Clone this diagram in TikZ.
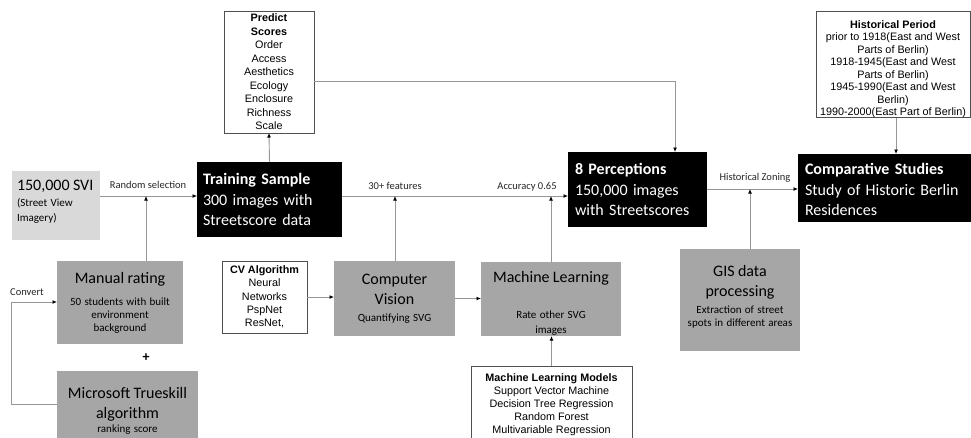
\documentclass[tikz,border=0pt]{standalone}
\usepackage{fontspec}
\setmainfont{Carlito}
\newfontfamily\arialf{Liberation Sans}
\usetikzlibrary{arrows.meta}
\definecolor{boxgray}{RGB}{166,166,166}
\definecolor{lightbox}{RGB}{217,217,217}
\definecolor{linegray}{RGB}{150,150,150}
\definecolor{framegray}{RGB}{80,80,80}
\newcommand{\bigtxt}{\fontsize{16}{20.5}\selectfont}
\newcommand{\smalltxt}{\fontsize{11}{13.5}\selectfont}
\newcommand{\lbltxt}{\fontsize{10.5}{12}\selectfont}
\newcommand{\arialtxt}{\arialf\fontsize{10.8}{13.3}\selectfont}
\begin{document}
\begin{tikzpicture}[x=1pt,y=-1pt,
  graybox/.style={fill=boxgray, inner ysep=0pt, inner xsep=2pt, outer sep=0pt, align=center},
  blackbox/.style={fill=black, text=white, inner ysep=0pt, outer sep=0pt, align=left, font=\bigtxt},
  whitebox/.style={draw=framegray, line width=0.8pt, fill=white, inner sep=0pt, outer sep=0pt, align=center, font=\arialtxt},
  conn/.style={draw=linegray, line width=0.9pt},
  arr/.style={conn, -{Latex[length=4.5pt,width=4pt,color=black]}},
  lbl/.style={font=\lbltxt, inner sep=0pt, text=black!85}]
\useasboundingbox (0,0) rectangle (971,437);
\fill[white] (0,0) rectangle (971,437);
\clip (0,0) rectangle (971,437);

% boxes
\node[fill=lightbox, inner xsep=5pt, inner ysep=0pt, outer sep=0pt, text width=78pt, align=left,
      minimum width=88pt, minimum height=69pt] (svi) at (56,205.5)
  {{\bigtxt 150,000 SVI\par}\vspace{1pt}{\fontsize{11}{15}\selectfont (Street View\\Imagery)\rule[-10pt]{0pt}{1pt}\par}};

\node[blackbox, inner xsep=6pt, text width=133pt, minimum width=145pt, minimum height=75pt] (train) at (269.5,199.5)
  {\textbf{Training Sample}\\300 images with\\Streetscore data};

\node[whitebox, minimum width=90pt, minimum height=122pt, font=\arialf\fontsize{10.8}{13.5}\selectfont] (predict) at (269,72)
  {\textbf{Predict}\\\textbf{Scores}\\Order\\Access\\Aesthetics\\Ecology\\Enclosure\\Richness\\Scale};

\node[blackbox, inner xsep=7pt, text width=125pt, minimum width=139pt, minimum height=75pt] (percep) at (637.5,189.5)
  {\textbf{8 Perceptions}\\150,000 images\\with Streetscores};

\node[blackbox, inner xsep=7pt, text width=163pt, minimum width=177pt, minimum height=68pt] (comp) at (886.5,188)
  {\rule{0pt}{15pt}\textbf{Comparative Studies}\\Study of Historic Berlin\\Residences};

\node[whitebox, minimum width=154pt, minimum height=105pt, font=\arialf\fontsize{10.8}{12.5}\selectfont] (hist) at (893,64.5)
  {\rule{0pt}{17pt}\textbf{Historical Period}\\prior to 1918(East and West\\Parts of Berlin)\\1918-1945(East and West\\Parts of Berlin)\\1945-1990(East and West\\Berlin)\\1990-2000(East Part of Berlin)};

\node[graybox, text width=122pt, minimum width=126pt, minimum height=83pt] (manual) at (120,302.5)
  {{\bigtxt Manual rating\par}\vspace{9pt}{\fontsize{11}{13}\selectfont 50 students with built\\environment\\background\par}};

\node[graybox, text width=137pt, minimum width=141pt, minimum height=74pt] (ms) at (127.5,408)
  {{\bigtxt \rule{0pt}{16pt}Microsoft Trueskill\\algorithm\par}\vspace{0pt}{\smalltxt ranking score\par}};

\node[whitebox, minimum width=85pt, minimum height=72pt] (cvalg) at (264.5,297)
  {\textbf{CV Algorithm}\\Neural\\Networks\\PspNet\\ResNet,};

\node[graybox, text width=117pt, minimum width=121pt, minimum height=75pt] (cv) at (394.5,298.5)
  {{\bigtxt Computer\\Vision\par}\vspace{3.5pt}{\smalltxt Quantifying SVG\par}};

\node[graybox, text width=136pt, minimum width=140pt, minimum height=74pt] (ml) at (551,299)
  {{\bigtxt \rule{0pt}{20pt}Machine Learning\par}\vspace{21pt}{\fontsize{11}{15}\selectfont Rate other SVG\\images\par}};

\node[whitebox, minimum width=161pt, minimum height=77pt, font=\arialf\fontsize{10.8}{13}\selectfont] (mlm) at (551.5,404.5)
  {\textbf{Machine Learning Models}\\Support Vector Machine\\Decision Tree Regression\\Random Forest\\Multivariable Regression};

\node[graybox, text width=116pt, minimum width=120pt, minimum height=102pt] (gis) at (740,300)
  {{\bigtxt GIS data\\processing\par}\vspace{4pt}{\fontsize{11}{13}\selectfont Extraction of street\\spots in different areas\rule[-8pt]{0pt}{1pt}\par}};

\node[font=\fontsize{14}{14}\selectfont\bfseries, inner sep=0pt] (plus) at (146,358) {+};

% labels
\node[lbl] (l1) at (148,185) {Random selection};
\node[lbl] (l2) at (395,186) {30+ features};
\node[lbl] (l3) at (527,187) {Accuracy 0.65};
\node[lbl] (l4) at (755,178) {Historical Zoning};
\node[lbl] (l5) at (27,292) {Convert};

% junction coordinates
\coordinate (j1) at (146,196);
\coordinate (j3) at (395,196);
\coordinate (j4) at (551,196);
\coordinate (j2) at (675,81);
\coordinate (j5) at (750,189);
\coordinate (j6) at (896,0);
\coordinate (c1) at (11,404);
\coordinate (c2) at (11,302);

% connectors
\draw[arr] (svi.east |- j1) -- (train.west |- j1);
\draw[arr] (j1 |- manual.north) -- (j1);
\draw[arr] (c1 -| ms.west) -- (c1) -- (c2) -- (c2 -| manual.west);
\draw[arr] (train.north) -- (predict.south);
\draw[arr] (j2 -| predict.east) -- (j2) -- (j2 |- percep.north);
\draw[arr] (train.east |- j3) -- (percep.west |- j3);
\draw[arr] (j3 |- cv.north) -- (j3);
\draw[arr] (j4 |- ml.north) -- (j4);
\draw[arr] (cvalg.east) -- (cvalg.east -| cv.west);
\draw[arr] (cv.east) -- (cv.east -| ml.west);
\draw[arr] (mlm.north) -- (mlm.north |- ml.south);
\draw[arr] (percep.east |- j5) -- (comp.west |- j5);
\draw[arr] (j5 |- gis.north) -- (j5);
\draw[arr] (j6 |- hist.south) -- (j6 |- comp.north);
\end{tikzpicture}
\end{document}
